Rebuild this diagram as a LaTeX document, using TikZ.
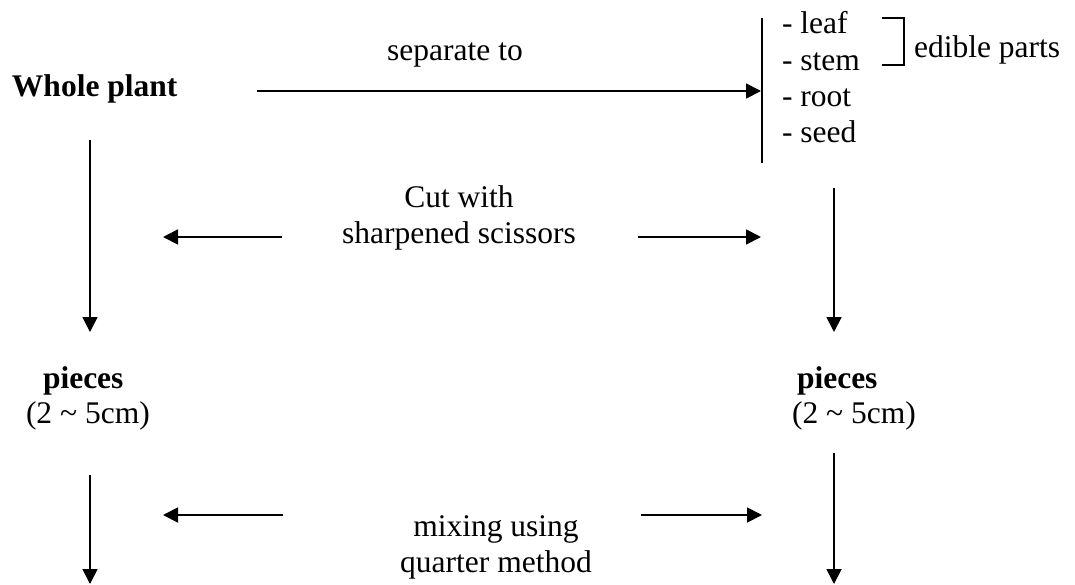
\documentclass[tikz,border=0pt]{standalone}
\usepackage{fontspec}
\setmainfont{Liberation Serif}
\usetikzlibrary{arrows.meta}
\tikzset{
  lbl/.style={inner sep=0pt, outer sep=0pt, font=\fontsize{31.5}{36}\selectfont},
  bold/.style={font=\fontsize{31.5}{36}\selectfont\bfseries},
  conn/.style={line width=1.8pt, -{Triangle[length=15pt,width=15pt]}},
  barline/.style={line width=1.8pt},
  brk/.style={line width=1.4pt}
}
\begin{document}
\begin{tikzpicture}[x=1pt,y=-1pt]
\useasboundingbox (0,0) rectangle (1075,584);
% texts
\node[lbl, bold, anchor=base west] (whole) at (12,96) {Whole plant};
\node[lbl, anchor=base] (sep) at (455,60) {separate to};
\node[lbl, anchor=base west] (leaf) at (782,33) {- leaf};
\node[lbl, anchor=base west] (stem) at (782,70) {- stem};
\node[lbl, anchor=base west] (root) at (782,106) {- root};
\node[lbl, anchor=base west] (seed) at (782,142) {- seed};
\node[lbl, anchor=base west] (edible) at (914,57) {edible parts};
\node[lbl, anchor=base, align=center] (cut) at (459,243) {Cut with\\sharpened scissors};
\node[lbl, bold, anchor=base west] (piecesL) at (43,388) {pieces};
\node[lbl, anchor=base west] (sizeL) at (26,423) {(2 \textasciitilde{} 5cm)};
\node[lbl, bold, anchor=base west] (piecesR) at (797,388) {pieces};
\node[lbl, anchor=base west] (sizeR) at (792,423) {(2 \textasciitilde{} 5cm)};
\node[lbl, anchor=base, align=center] (mix) at (496,572) {mixing using\\quarter method};
% coordinates for connector ends
\coordinate (a1s) at (257,91);
\coordinate (bartop) at (762,18);
\coordinate (barbot) at (762,163);
\coordinate (a1e) at (761,91);
\coordinate (b1) at (882,18);
\coordinate (b2) at (904,18);
\coordinate (b3) at (904,65);
\coordinate (b4) at (882,65);
\coordinate (lv1s) at (90,140);
\coordinate (lv1e) at (90,332);
\coordinate (rv1s) at (834,188);
\coordinate (rv1e) at (834,332);
\coordinate (cl1s) at (282,237);
\coordinate (cl1e) at (163,237);
\coordinate (cr1s) at (638,237);
\coordinate (cr1e) at (761,237);
\coordinate (lv2s) at (90,475);
\coordinate (lv2e) at (90,584);
\coordinate (rv2s) at (834,453);
\coordinate (rv2e) at (834,584);
\coordinate (ml1s) at (283,515);
\coordinate (ml1e) at (163,515);
\coordinate (mr1s) at (641,515);
\coordinate (mr1e) at (762,515);
% connectors
\draw[conn] (a1s) -- (a1e);
\draw[barline] (bartop) -- (barbot);
\draw[brk] (b1) -- (b2) -- (b3) -- (b4);
\draw[conn] (lv1s) -- (lv1e);
\draw[conn] (rv1s) -- (rv1e);
\draw[conn] (cl1s) -- (cl1e);
\draw[conn] (cr1s) -- (cr1e);
\draw[conn] (lv2s) -- (lv2e);
\draw[conn] (rv2s) -- (rv2e);
\draw[conn] (ml1s) -- (ml1e);
\draw[conn] (mr1s) -- (mr1e);
\end{tikzpicture}
\end{document}
